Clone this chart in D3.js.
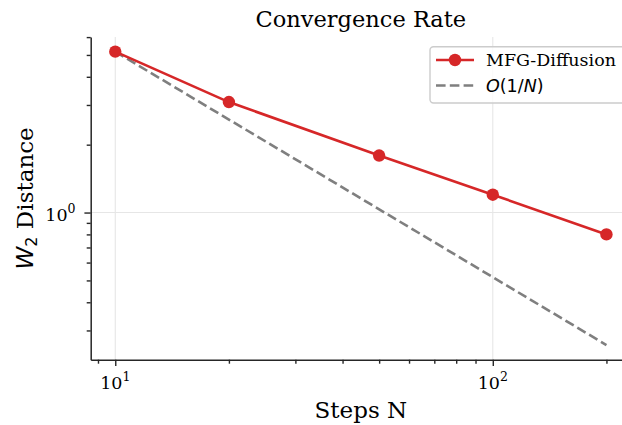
<!DOCTYPE html>
<html>
<head>
<meta charset="utf-8">
<script src="https://cdn.jsdelivr.net/npm/d3@7"></script>
<style>
  html, body { margin: 0; padding: 0; background: #fff; }
  svg { display: block; }
</style>
</head>
<body>
<svg id="chart" width="622" height="425"></svg>
<script>
// ---- data ----
const steps = [10, 20, 50, 100, 200];
const w2Distance = [5.17, 3.09, 1.79, 1.20, 0.80];
const refSteps = [10, 200];
const refValues = [5.17, 0.2585];
const xMajorTicks = [10, 100];
const xMajorExp = ["1", "2"];
const yMajorTicks = [1];
const yMajorExp = ["0"];
const title = "Convergence Rate";
const xLabel = "Steps N";
const seriesName = "MFG-Diffusion";

(function () {
// ---- layout ----
const W = 622, H = 425;
const pLeft = 90.7, pTop = 37, pBottom = 359.7, pRight = 631;
const red = "#d62728", gray = "#7f7f7f";
const serif = "'DejaVu Serif', serif";
const sans = "'DejaVu Sans', sans-serif";

const svg = d3.select("#chart");
svg.append("rect").attr("width", W).attr("height", H).attr("fill", "#fff");

// matplotlib-like 5% margins in log space
function logDomain(vals) {
  const lo = Math.log10(d3.min(vals)), hi = Math.log10(d3.max(vals));
  const m = (hi - lo) * 0.05;
  return [Math.pow(10, lo - m), Math.pow(10, hi + m)];
}
const x = d3.scaleLog().domain(logDomain(steps.concat(refSteps))).range([pLeft, pRight]);
const y = d3.scaleLog().domain(logDomain(w2Distance.concat(refValues))).range([pBottom, pTop]);

// grid
const grid = svg.append("g");
xMajorTicks.forEach(t => grid.append("line")
  .attr("x1", x(t)).attr("x2", x(t)).attr("y1", pTop).attr("y2", pBottom)
  .attr("stroke", "#e6e6e6").attr("stroke-width", 1.1));
yMajorTicks.forEach(t => grid.append("line")
  .attr("x1", pLeft).attr("x2", pRight).attr("y1", y(t)).attr("y2", y(t))
  .attr("stroke", "#e6e6e6").attr("stroke-width", 1.1));

// axes
const xMinor = x.ticks().filter(t => !xMajorTicks.includes(t));
const yMinor = y.ticks().filter(t => !yMajorTicks.includes(t));

const xAxisG = svg.append("g").attr("transform", `translate(0,${pBottom})`);
xAxisG.call(d3.axisBottom(x).tickValues(xMinor).tickSize(4).tickFormat("").tickSizeOuter(0));
const xMaj = xAxisG.append("g").call(d3.axisBottom(x).tickValues(xMajorTicks).tickSize(6.3).tickFormat(""));
xMaj.select("path.domain").remove();
xAxisG.selectAll("path.domain").attr("stroke", "#262626").attr("stroke-width", 1.5);
xAxisG.selectAll(".tick line").attr("stroke", "#262626").attr("stroke-width", 1.4);

const yAxisG = svg.append("g").attr("transform", `translate(${pLeft},0)`);
yAxisG.call(d3.axisLeft(y).tickValues(yMinor).tickSize(4).tickFormat("").tickSizeOuter(0));
const yMaj = yAxisG.append("g").call(d3.axisLeft(y).tickValues(yMajorTicks).tickSize(6.3).tickFormat(""));
yMaj.select("path.domain").remove();
yAxisG.selectAll("path.domain").attr("stroke", "#262626").attr("stroke-width", 1.5);
yAxisG.selectAll(".tick line").attr("stroke", "#262626").attr("stroke-width", 1.4);

// tick labels
xMajorTicks.forEach((t, i) => {
  const tx = svg.append("text").attr("x", x(t)).attr("y", 388.7)
    .attr("text-anchor", "middle").attr("font-family", serif).attr("font-size", 17.5).attr("fill", "#000");
  tx.append("tspan").text("10");
  tx.append("tspan").attr("dy", -7.5).attr("font-size", 12.5).text(xMajorExp[i]);
});
yMajorTicks.forEach((t, i) => {
  const ty = svg.append("text").attr("x", 75.5).attr("y", y(t) + 8)
    .attr("text-anchor", "end").attr("font-family", serif).attr("font-size", 17.5).attr("fill", "#000");
  ty.append("tspan").text("10");
  ty.append("tspan").attr("dy", -7.5).attr("font-size", 12.5).text(yMajorExp[i]);
});

// reference line
const line = d3.line().x(d => x(d[0])).y(d => y(d[1]));
svg.append("path").datum(refSteps.map((s, i) => [s, refValues[i]]))
  .attr("d", line).attr("fill", "none").attr("stroke", gray)
  .attr("stroke-width", 2.6).attr("stroke-dasharray", "9.6,4.2");

// main series
const pts = steps.map((s, i) => [s, w2Distance[i]]);
svg.append("path").datum(pts).attr("d", line).attr("fill", "none")
  .attr("stroke", red).attr("stroke-width", 2.6);
svg.selectAll("circle.pt").data(pts).enter().append("circle")
  .attr("class", "pt").attr("cx", d => x(d[0])).attr("cy", d => y(d[1]))
  .attr("r", 6.2).attr("fill", red);

// title & labels
svg.append("text").attr("x", (pLeft + pRight) / 2).attr("y", 26.7).attr("text-anchor", "middle")
  .attr("font-family", serif).attr("font-size", 22.5).attr("fill", "#000").text(title);
svg.append("text").attr("x", (pLeft + pRight) / 2).attr("y", 418.3).attr("text-anchor", "middle")
  .attr("font-family", serif).attr("font-size", 23).attr("fill", "#000").text(xLabel);

const yl = svg.append("text").attr("transform", `translate(33,${(pTop + pBottom) / 2}) rotate(-90)`)
  .attr("text-anchor", "middle").attr("font-size", 23).attr("fill", "#000");
yl.append("tspan").attr("font-family", sans).attr("font-style", "italic").text("W");
yl.append("tspan").attr("font-family", sans).attr("font-size", 16).attr("dy", 4).text("2");
yl.append("tspan").attr("font-family", serif).attr("dy", -4).text("\u00a0Distance");

// legend
const lg = svg.append("g");
lg.append("rect").attr("x", 430).attr("y", 46.7).attr("width", 240).attr("height", 56.3)
  .attr("rx", 3.5).attr("fill", "#fff").attr("fill-opacity", 0.8)
  .attr("stroke", "#cccccc").attr("stroke-width", 1.4);
lg.append("line").attr("x1", 436).attr("x2", 474).attr("y1", 60).attr("y2", 60)
  .attr("stroke", red).attr("stroke-width", 2.6);
lg.append("circle").attr("cx", 455).attr("cy", 60).attr("r", 6.2).attr("fill", red);
lg.append("text").attr("x", 486).attr("y", 66).attr("font-family", serif).attr("font-size", 17.5)
  .attr("fill", "#000").text(seriesName);
lg.append("line").attr("x1", 436).attr("x2", 474).attr("y1", 85.5).attr("y2", 85.5)
  .attr("stroke", gray).attr("stroke-width", 2.6).attr("stroke-dasharray", "9.6,4.2");
const ot = lg.append("text").attr("x", 486).attr("y", 91.5).attr("font-family", sans)
  .attr("font-size", 17.5).attr("fill", "#000");
ot.append("tspan").attr("font-style", "italic").text("O");
ot.append("tspan").text("(1/");
ot.append("tspan").attr("font-style", "italic").text("N");
ot.append("tspan").text(")");
})();
</script>
</body>
</html>
